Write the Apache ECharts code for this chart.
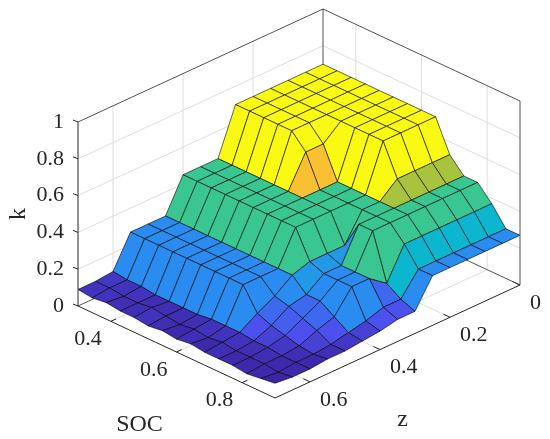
<!DOCTYPE html>
<html lang="en">
  <head>
    <meta charset="UTF-8" />
    <title>k(SOC, z) surface</title>
    <script src="https://cdn.jsdelivr.net/npm/echarts@6/dist/echarts.min.js"></script>
  </head>
  <body style="margin: 0">
    <div id="main" style="width: 550px; height: 439px"></div>
    <script>
      // grid of the surface
      var socValues = [0.3, 0.343, 0.386, 0.429, 0.471, 0.514, 0.557, 0.6, 0.643, 0.686, 0.729, 0.771, 0.814, 0.857, 0.9];
      var zValues = [0, 0.05, 0.1, 0.15, 0.2, 0.25, 0.3, 0.35, 0.4, 0.45, 0.5, 0.55, 0.6, 0.65, 0.7];
      // one row per SOC value, columns follow zValues
      var kRows = [
        [0.70, 0.70, 0.70, 0.70, 0.70, 0.70, 0.45, 0.45, 0.45, 0.27, 0.27, 0.27, 0.10, 0.09, 0.09],
        [0.70, 0.70, 0.70, 0.70, 0.70, 0.70, 0.45, 0.45, 0.45, 0.27, 0.27, 0.27, 0.09, 0.09, 0.08],
        [0.70, 0.70, 0.70, 0.70, 0.70, 0.70, 0.45, 0.45, 0.45, 0.27, 0.27, 0.27, 0.09, 0.08, 0.09],
        [0.70, 0.70, 0.70, 0.70, 0.70, 0.70, 0.45, 0.45, 0.45, 0.27, 0.27, 0.27, 0.08, 0.08, 0.08],
        [0.70, 0.70, 0.70, 0.70, 0.70, 0.70, 0.45, 0.45, 0.45, 0.27, 0.27, 0.27, 0.08, 0.09, 0.08],
        [0.70, 0.70, 0.70, 0.70, 0.62, 0.62, 0.45, 0.45, 0.45, 0.27, 0.27, 0.27, 0.08, 0.08, 0.07],
        [0.70, 0.70, 0.70, 0.70, 0.45, 0.45, 0.45, 0.45, 0.45, 0.27, 0.27, 0.27, 0.08, 0.07, 0.08],
        [0.70, 0.70, 0.70, 0.70, 0.45, 0.45, 0.45, 0.45, 0.45, 0.27, 0.27, 0.27, 0.09, 0.08, 0.07],
        [0.70, 0.70, 0.70, 0.70, 0.45, 0.45, 0.45, 0.45, 0.45, 0.27, 0.27, 0.27, 0.09, 0.07, 0.08],
        [0.53, 0.53, 0.53, 0.53, 0.45, 0.45, 0.30, 0.30, 0.30, 0.27, 0.20, 0.15, 0.09, 0.08, 0.07],
        [0.45, 0.45, 0.45, 0.45, 0.45, 0.45, 0.45, 0.27, 0.27, 0.20, 0.18, 0.12, 0.08, 0.07, 0.07],
        [0.45, 0.45, 0.45, 0.45, 0.45, 0.45, 0.45, 0.27, 0.27, 0.20, 0.15, 0.10, 0.08, 0.07, 0.07],
        [0.37, 0.37, 0.37, 0.37, 0.37, 0.37, 0.20, 0.27, 0.27, 0.15, 0.12, 0.08, 0.07, 0.07, 0.06],
        [0.27, 0.27, 0.27, 0.27, 0.27, 0.27, 0.15, 0.15, 0.12, 0.10, 0.08, 0.07, 0.07, 0.06, 0.07],
        [0.27, 0.27, 0.27, 0.27, 0.27, 0.27, 0.12, 0.12, 0.10, 0.09, 0.08, 0.08, 0.07, 0.07, 0.08]
      ];
      var socTicks = [0.4, 0.6, 0.8];
      var zTicks = [0, 0.2, 0.4, 0.6];
      var kTicks = [0, 0.2, 0.4, 0.6, 0.8, 1];
      var kTickLabels = ['0', '0.2', '0.4', '0.6', '0.8', '1'];

      var socRange = [0.3, 0.9];
      var zRange = [0, 0.7];
      var kRange = [0, 1];

      // orthographic view of the box (screen units of the hidden plane axes)
      var view = { origin: [78, 306], ea: [197, 92], eb: [245, -113], ec: [0, -184] };

      function project(soc, z, k) {
        var a = (soc - socRange[0]) / (socRange[1] - socRange[0]);
        var b = (zRange[1] - z) / (zRange[1] - zRange[0]);
        var c = (k - kRange[0]) / (kRange[1] - kRange[0]);
        return [
          view.origin[0] + a * view.ea[0] + b * view.eb[0] + c * view.ec[0],
          view.origin[1] + a * view.ea[1] + b * view.eb[1] + c * view.ec[1]
        ];
      }

      // parula-like colormap over the k values
      var cmap = [
        [0.06, [60, 36, 165]],
        [0.15, [76, 80, 236]],
        [0.27, [42, 140, 240]],
        [0.37, [12, 182, 206]],
        [0.45, [58, 198, 145]],
        [0.53, [168, 195, 62]],
        [0.62, [250, 192, 52]],
        [0.70, [249, 249, 20]]
      ];
      function colorOf(k) {
        if (k <= cmap[0][0]) return 'rgb(' + cmap[0][1].join(',') + ')';
        for (var n = 1; n < cmap.length; n++) {
          if (k <= cmap[n][0]) {
            var t = (k - cmap[n - 1][0]) / (cmap[n][0] - cmap[n - 1][0]);
            var c0 = cmap[n - 1][1], c1 = cmap[n][1];
            return 'rgb(' + [0, 1, 2].map(function (q) { return Math.round(c0[q] + t * (c1[q] - c0[q])); }).join(',') + ')';
          }
        }
        return 'rgb(' + cmap[cmap.length - 1][1].join(',') + ')';
      }

      // faces, far to near (low SOC / low z first)
      var faces = [];
      for (var i = 0; i < socValues.length - 1; i++) {
        for (var m = 0; m < zValues.length - 1; m++) {
          faces.push([i, m]);
        }
      }

      // grid lines on the back walls and the floor
      var gridLines = [];
      kTicks.slice(1, -1).forEach(function (k) {
        gridLines.push([socRange[0], zRange[1], k, socRange[0], zRange[0], k]);
        gridLines.push([socRange[0], zRange[0], k, socRange[1], zRange[0], k]);
      });
      zTicks.slice(1).forEach(function (z) {
        gridLines.push([socRange[0], z, 0, socRange[0], z, 1]);
        gridLines.push([socRange[0], z, 0, socRange[1], z, 0]);
      });
      socTicks.forEach(function (s) {
        gridLines.push([s, zRange[0], 0, s, zRange[0], 1]);
        gridLines.push([s, zRange[0], 0, s, zRange[1], 0]);
      });

      // box edges behind the surface
      var backEdges = [
        [0.3, 0.7, 1, 0.3, 0, 1],
        [0.3, 0, 1, 0.9, 0, 1],
        [0.3, 0, 0, 0.3, 0, 1],
        [0.9, 0, 0, 0.9, 0, 1],
        [0.3, 0.7, 0, 0.3, 0, 0],
        [0.3, 0, 0, 0.9, 0, 0]
      ];
      // axis lines in front
      var axisEdges = [
        [0.3, 0.7, 0, 0.3, 0.7, 1],
        [0.3, 0.7, 0, 0.9, 0.7, 0],
        [0.9, 0.7, 0, 0.9, 0, 0]
      ];

      var fontFamily = 'Liberation Serif';

      var chart = echarts.init(document.getElementById('main'));

      var lineSets = { grid: gridLines, back: backEdges, axes: axisEdges };
      function lineRender(color, width) {
        return function (params, api) {
          var d = lineSets[params.seriesName][params.dataIndex];
          var p1 = api.coord(project(d[0], d[1], d[2]));
          var p2 = api.coord(project(d[3], d[4], d[5]));
          return {
            type: 'line',
            shape: { x1: p1[0], y1: p1[1], x2: p2[0], y2: p2[1] },
            style: { stroke: color, lineWidth: width }
          };
        };
      }

      // ticks and their labels
      var tickItems = [];
      kTicks.forEach(function (k, n) { tickItems.push(['k', k, kTickLabels[n]]); });
      socTicks.forEach(function (s) { tickItems.push(['soc', s, String(s)]); });
      zTicks.forEach(function (z) { tickItems.push(['z', z, String(z)]); });
      var titleItems = ['k', 'SOC', 'z'];

      var option = {
        animation: false,
        grid: { left: 0, right: 0, top: 0, bottom: 0 },
        xAxis: { type: 'value', min: 0, max: 550, show: false },
        yAxis: { type: 'value', min: 0, max: 439, inverse: true, show: false },
        series: [
          {
            name: 'grid',
            type: 'custom',
            data: gridLines.map(function (d, n) { return [n]; }),
            renderItem: lineRender('#dedede', 1),
            z: 1
          },
          {
            name: 'back',
            type: 'custom',
            data: backEdges.map(function (d, n) { return [n]; }),
            renderItem: lineRender('#262626', 0.8),
            z: 2
          },
          {
            name: 'surface',
            type: 'custom',
            data: faces,
            renderItem: function (params, api) {
              var i = api.value(0), m = api.value(1);
              var corners = [[i, m], [i + 1, m], [i + 1, m + 1], [i, m + 1]];
              var pts = corners.map(function (c) {
                return api.coord(project(socValues[c[0]], zValues[c[1]], kRows[c[0]][c[1]]));
              });
              return {
                type: 'polygon',
                shape: { points: pts },
                style: { fill: colorOf(kRows[i][m]), stroke: '#000', lineWidth: 0.6, lineJoin: 'round' }
              };
            },
            z: 3
          },
          {
            name: 'axes',
            type: 'custom',
            data: axisEdges.map(function (d, n) { return [n]; }),
            renderItem: lineRender('#262626', 1),
            z: 4
          },
          {
            name: 'ticks',
            type: 'custom',
            data: tickItems.map(function (d, n) { return [n]; }),
            renderItem: function (params, api) {
              var t = tickItems[params.dataIndex];
              var p, q, text;
              if (t[0] === 'k') {
                p = api.coord(project(0.3, 0.7, t[1]));
                q = [p[0] - 5, p[1] - 2];
                text = { x: p[0] - 14, y: p[1], align: 'right' };
              } else if (t[0] === 'soc') {
                p = api.coord(project(t[1], 0.7, 0));
                q = api.coord(project(t[1], 0.685, 0));
                text = { x: p[0] - 9, y: p[1] + 18, align: 'right' };
              } else {
                p = api.coord(project(0.9, t[1], 0));
                q = api.coord(project(0.88, t[1], 0));
                text = { x: p[0] + 10, y: p[1] + 18, align: 'left' };
              }
              return {
                type: 'group',
                children: [
                  { type: 'line', shape: { x1: p[0], y1: p[1], x2: q[0], y2: q[1] }, style: { stroke: '#262626', lineWidth: 1 } },
                  {
                    type: 'text',
                    x: text.x,
                    y: text.y,
                    style: {
                      text: t[2],
                      fill: '#262626',
                      fontSize: 22,
                      fontFamily: fontFamily,
                      align: text.align,
                      verticalAlign: 'middle'
                    }
                  }
                ]
              };
            },
            z: 5
          },
          {
            name: 'titles',
            type: 'custom',
            data: titleItems.map(function (d, n) { return [n]; }),
            renderItem: function (params, api) {
              var name = titleItems[params.dataIndex];
              var p, rot = 0;
              if (name === 'k') {
                p = api.coord(project(0.3, 0.7, 0.5));
                p = [p[0] - 59, p[1]];
                rot = Math.PI / 2;
              } else if (name === 'SOC') {
                p = api.coord(project(0.6, 0.7, 0));
                p = [p[0] - 37, p[1] + 73];
              } else {
                p = api.coord(project(0.9, 0.35, 0));
                p = [p[0] + 5, p[1] + 78];
              }
              return {
                type: 'text',
                x: p[0],
                y: p[1],
                rotation: rot,
                style: {
                  text: name,
                  fill: '#262626',
                  fontSize: 24,
                  fontFamily: fontFamily,
                  align: 'center',
                  verticalAlign: 'middle'
                }
              };
            },
            z: 5
          }
        ]
      };
      chart.setOption(option);
    </script>
  </body>
</html>
